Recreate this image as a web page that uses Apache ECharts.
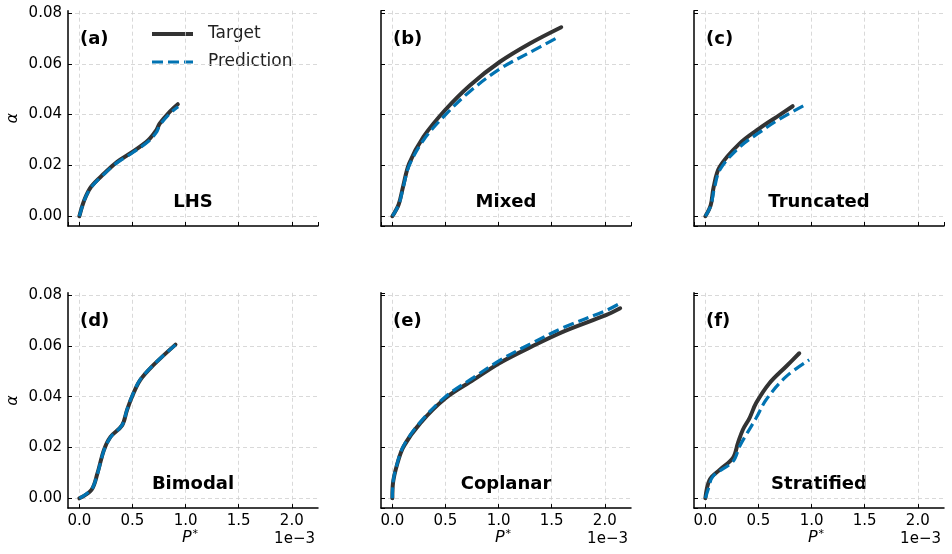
<!DOCTYPE html>
<html>
<head>
<meta charset="utf-8">
<script src="https://cdn.jsdelivr.net/npm/echarts@6/dist/echarts.min.js"></script>
<style>html,body{margin:0;padding:0;background:#fff}#c{width:952px;height:554px}</style>
</head>
<body>
<div id="c"></div>
<script>
// x values are P* in units of 1e-3
const panelTags = ['(a)','(b)','(c)','(d)','(e)','(f)'];
const panelNames = ['LHS','Mixed','Truncated','Bimodal','Coplanar','Stratified'];
const legendNames = ['Target','Prediction'];

const xA_t = [0,0.046,0.109,0.233,0.356,0.5,0.648,0.725,0.757,0.85,0.927];
const yA_t = [0,0.0063,0.0115,0.0168,0.0214,0.0253,0.0299,0.0339,0.0365,0.0411,0.0441];
const xA_p = [0,0.046,0.109,0.233,0.356,0.5,0.648,0.725,0.757,0.85,0.93];
const yA_p = [0,0.0062,0.0113,0.0166,0.0211,0.0250,0.0294,0.0330,0.0358,0.0404,0.0431];

const xB_t = [0,0.06,0.1,0.159,0.294,0.497,0.732,1.013,1.295,1.59];
const yB_t = [0,0.0047,0.0115,0.0208,0.0313,0.0418,0.0516,0.0608,0.068,0.0744];
const xB_p = [0,0.06,0.1,0.159,0.294,0.497,0.732,1.013,1.295,1.554];
const yB_p = [0,0.0045,0.011,0.020,0.0300,0.0398,0.0492,0.0580,0.0645,0.0703];

const xC_t = [0,0.05,0.078,0.134,0.322,0.51,0.697,0.822];
const yC_t = [0,0.0043,0.0115,0.0194,0.0286,0.0346,0.0398,0.0433];
const xC_p = [0,0.05,0.085,0.14,0.322,0.51,0.697,0.932];
const yC_p = [0,0.004,0.011,0.0185,0.0272,0.0330,0.0382,0.0437];

const xD_t = [0,0.114,0.17,0.231,0.293,0.402,0.448,0.494,0.571,0.694,0.905];
const yD_t = [0,0.0033,0.0098,0.019,0.0242,0.0287,0.0346,0.0398,0.0464,0.0523,0.0605];
const xD_p = [0,0.114,0.17,0.231,0.293,0.402,0.448,0.494,0.571,0.694,0.905];
const yD_p = [0,0.0035,0.0096,0.0188,0.0240,0.0288,0.0348,0.0400,0.0466,0.0524,0.0604];

const xE_t = [0,0.006,0.044,0.106,0.263,0.5,0.763,1.007,1.295,1.61,2.016,2.145];
const yE_t = [0,0.006,0.0132,0.0204,0.0296,0.0394,0.0466,0.0532,0.0594,0.0656,0.0722,0.0748];
const xE_p = [0,0.006,0.044,0.106,0.263,0.5,0.763,1.007,1.295,1.61,2.016,2.145];
const yE_p = [0,0.0062,0.0135,0.0207,0.0300,0.0400,0.0475,0.0542,0.0607,0.0672,0.0740,0.0768];

const xF_t = [0,0.04,0.134,0.26,0.307,0.353,0.416,0.478,0.603,0.76,0.884];
const yF_t = [0,0.0073,0.0112,0.0159,0.0218,0.027,0.0316,0.0375,0.0453,0.0519,0.0571];
const xF_p = [0,0.03,0.072,0.26,0.322,0.384,0.478,0.572,0.76,0.978];
const yF_p = [0,0.004,0.0087,0.0145,0.0204,0.025,0.0316,0.0388,0.0479,0.0545];

const targets = [[xA_t,yA_t],[xB_t,yB_t],[xC_t,yC_t],[xD_t,yD_t],[xE_t,yE_t],[xF_t,yF_t]];
const preds = [[xA_p,yA_p],[xB_p,yB_p],[xC_p,yC_p],[xD_p,yD_p],[xE_p,yE_p],[xF_p,yF_p]];

const zip = (xs, ys) => xs.map((x, i) => [x, ys[i]]);

const FONT = 'DejaVu Sans';
const TCOL = '#333333', PCOL = '#0173B2';
const lefts = [68, 381, 694];
const tops = [10.7, 292.8];
const W = 250, H = 215.3;
const xMin = -0.107, xMax = 2.247;
const yMin = -0.00385, yMax = 0.0809;

const grids = [], xAxes = [], yAxes = [], series = [], graphics = [];
for (let i = 0; i < 6; i++) {
  const r = Math.floor(i / 3), c = i % 3;
  const L = lefts[c], T = tops[r];
  grids.push({left: L, top: T, width: W, height: H, containLabel: false});
  xAxes.push({
    type: 'value', gridIndex: i, min: xMin, max: xMax, splitNumber: 5,
    axisLine: {show: true, onZero: false, lineStyle: {color: '#000', width: 1.5}},
    axisTick: {show: true, inside: true, length: 4, lineStyle: {color: '#000', width: 1}},
    axisLabel: {show: r === 1, showMinLabel: false, showMaxLabel: false, color: '#000',
      fontFamily: FONT, fontSize: 15, margin: 6, formatter: v => v.toFixed(1)},
    splitLine: {show: true, showMinLine: false, showMaxLine: false,
      lineStyle: {color: '#cfcfcf', width: 0.8, type: [4, 3]}}
  });
  yAxes.push({
    type: 'value', gridIndex: i, min: yMin, max: yMax, splitNumber: 5,
    axisLine: {show: true, onZero: false, lineStyle: {color: '#000', width: 1.5}},
    axisTick: {show: true, inside: true, length: 4, lineStyle: {color: '#000', width: 1}},
    axisLabel: {show: c === 0, showMinLabel: false, showMaxLabel: false, color: '#000',
      fontFamily: FONT, fontSize: 15, margin: 6, formatter: v => v.toFixed(2)},
    splitLine: {show: true, showMinLine: false, showMaxLine: false,
      lineStyle: {color: '#cfcfcf', width: 0.8, type: [4, 3]}}
  });
  series.push({
    name: legendNames[0], type: 'line', xAxisIndex: i, yAxisIndex: i,
    data: zip(targets[i][0], targets[i][1]), showSymbol: false, symbol: 'none',
    smooth: 0.35, z: 2,
    lineStyle: {color: TCOL, width: 4, cap: 'round', join: 'round'}, itemStyle: {color: TCOL}
  });
  series.push({
    name: legendNames[1], type: 'line', xAxisIndex: i, yAxisIndex: i,
    data: zip(preds[i][0], preds[i][1]), showSymbol: false, symbol: 'none',
    smooth: 0.35, z: 3,
    lineStyle: {color: PCOL, width: 3.2, type: [11, 5]}, itemStyle: {color: PCOL}
  });
  graphics.push({type: 'text', left: L + 12, top: T + 20,
    style: {text: panelTags[i], font: 'bold 18px "DejaVu Sans"', fill: '#000'}});
  graphics.push({type: 'text', x: L + W / 2, y: T + H - 24,
    style: {text: panelNames[i], font: 'bold 18px "DejaVu Sans"', fill: '#000',
      textAlign: 'center', textVerticalAlign: 'middle'}});
  if (c === 0) {
    graphics.push({type: 'text', x: 13, y: T + H / 2, rotation: Math.PI / 2,
      style: {text: 'α', font: 'italic 16px "DejaVu Sans"', fill: '#000',
        textAlign: 'center', textVerticalAlign: 'middle'}});
  }
  if (r === 1) {
    graphics.push({type: 'text', x: L + W / 2 - 3, y: 538,
      style: {text: '{i|P}{s|*}', fill: '#000', textAlign: 'center', textVerticalAlign: 'middle',
        rich: {i: {font: 'italic 16px "DejaVu Sans"', fill: '#000'},
               s: {font: '11px "DejaVu Sans"', fill: '#000', verticalAlign: 'top', padding: [0,0,8,1]}}}});
    graphics.push({type: 'text', x: L + W - 3, y: 539,
      style: {text: '1e\u22123', font: '15px "DejaVu Sans"', fill: '#000',
        textAlign: 'right', textVerticalAlign: 'middle'}});
  }
}

// legend (drawn as graphic elements, panel a)
const legY = [34, 62];
graphics.push({type: 'line', shape: {x1: 152, y1: legY[0], x2: 193, y2: legY[0]},
  style: {stroke: TCOL, lineWidth: 4}});
graphics.push({type: 'line', shape: {x1: 152, y1: legY[1], x2: 193, y2: legY[1]},
  style: {stroke: PCOL, lineWidth: 3.2, lineDash: [11, 5]}});
legendNames.forEach((n, k) => {
  graphics.push({type: 'text', x: 208, y: legY[k],
    style: {text: n, font: '17px "DejaVu Sans"', fill: '#222', textVerticalAlign: 'middle'}});
});

const chart = echarts.init(document.getElementById('c'), null, {renderer: 'canvas'});
chart.setOption({
  animation: false,
  backgroundColor: '#fff',
  grid: grids, xAxis: xAxes, yAxis: yAxes, series: series,
  graphic: graphics
});
</script>
</body>
</html>
